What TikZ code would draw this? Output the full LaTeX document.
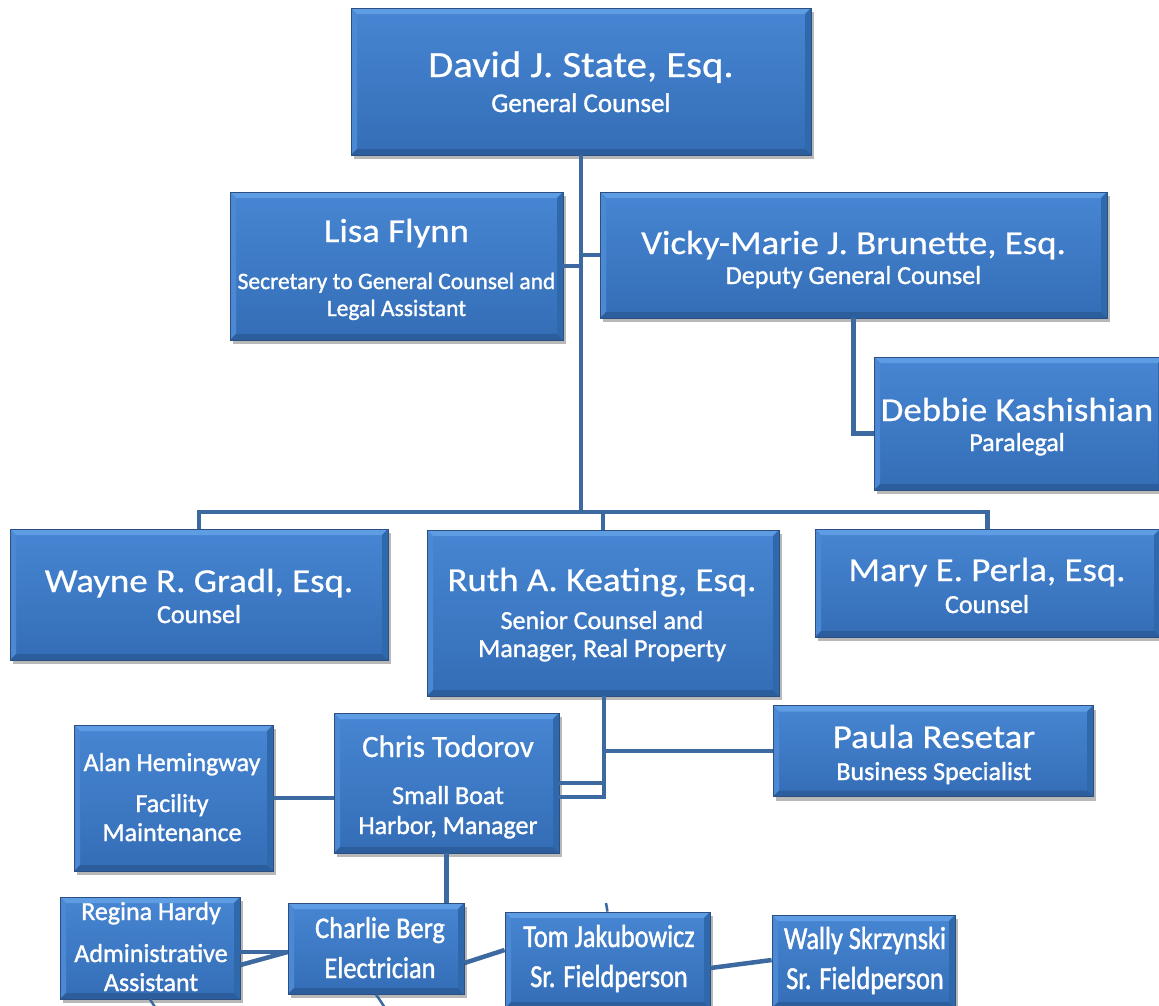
\documentclass[tikz,border=0pt]{standalone}
\usepackage{fontspec}
\setmainfont{Carlito}
\newfontfamily\widefont[FakeStretch=1.1,FakeBold=0.6]{Carlito}
\newfontfamily\subfont[FakeBold=1.3]{Carlito}
\newfontfamily\midfont[FakeBold=0.8]{Carlito}
\newfontfamily\condA[FakeStretch=0.82,FakeBold=1.3]{Carlito}
\newfontfamily\condB[FakeStretch=0.88,FakeBold=1.3]{Carlito}
\usetikzlibrary{shadows}
\definecolor{boxtop}{HTML}{4786D3}
\definecolor{boxbot}{HTML}{346DB6}
\definecolor{bvlight}{HTML}{5E9CE3}
\definecolor{bvleft}{HTML}{4B89D5}
\definecolor{bvright}{HTML}{3068AC}
\definecolor{bvbot}{HTML}{2C5D9C}
\definecolor{boxedge}{HTML}{2B4F80}
\definecolor{linecol}{HTML}{3D69A1}
\tikzset{
  orgbox/.style={draw=boxedge, line width=0.8pt, top color=boxtop, bottom color=boxbot,
    inner sep=0pt,
    drop shadow={shadow xshift=3pt, shadow yshift=-4pt, fill=black, opacity=0.28},
    path picture={
      \fill[bvlight] (path picture bounding box.north west) -- (path picture bounding box.north east)
        -- ([shift={(-6pt,-6pt)}]path picture bounding box.north east) -- ([shift={(6pt,-6pt)}]path picture bounding box.north west) -- cycle;
      \fill[bvleft] (path picture bounding box.north west) -- (path picture bounding box.south west)
        -- ([shift={(6pt,6pt)}]path picture bounding box.south west) -- ([shift={(6pt,-6pt)}]path picture bounding box.north west) -- cycle;
      \fill[bvright] (path picture bounding box.north east) -- (path picture bounding box.south east)
        -- ([shift={(-6pt,6pt)}]path picture bounding box.south east) -- ([shift={(-6pt,-6pt)}]path picture bounding box.north east) -- cycle;
      \fill[bvbot] (path picture bounding box.south west) -- (path picture bounding box.south east)
        -- ([shift={(-6pt,6pt)}]path picture bounding box.south east) -- ([shift={(6pt,6pt)}]path picture bounding box.south west) -- cycle;
    }},
  txt/.style={text=white, anchor=base, inner sep=0pt},
  conn/.style={draw=linecol, line width=4.5pt},
  stub/.style={draw=linecol, line width=2.5pt}
}
\newcommand\nmbig{\widefont\fontsize{37}{40}\selectfont}
\newcommand\nm{\widefont\fontsize{33.5}{36}\selectfont}
\newcommand\sub[1][26]{\subfont\fontsize{#1}{#1}\selectfont}
\newcommand\cnd{\condA\fontsize{32}{32}\selectfont}
\begin{document}
\begin{tikzpicture}[x=1pt,y=-1pt]
\useasboundingbox (0,0) rectangle (1159,1005);
\clip (0,0) rectangle (1159,1005);
\fill[white] (0,0) rectangle (1159,1005);

% boxes
\node[orgbox, minimum width=460pt, minimum height=147pt] (david) at (581,81.5) {};
\node[orgbox, minimum width=333pt, minimum height=148pt] (lisa) at (396.5,266) {};
\node[orgbox, minimum width=507pt, minimum height=126pt] (vicky) at (853.5,255) {};
\node[orgbox, minimum width=290pt, minimum height=133pt] (debbie) at (1019,423.5) {};
\node[orgbox, minimum width=378pt, minimum height=131pt] (wayne) at (199,594.5) {};
\node[orgbox, minimum width=352pt, minimum height=166pt] (ruth) at (603,613) {};
\node[orgbox, minimum width=345pt, minimum height=108pt] (mary) at (987.5,583) {};
\node[orgbox, minimum width=225pt, minimum height=140pt] (chris) at (446.5,783) {};
\node[orgbox, minimum width=199pt, minimum height=146pt] (alan) at (173.5,798) {};
\node[orgbox, minimum width=320pt, minimum height=91pt] (paula) at (933,751) {};
\node[orgbox, minimum width=180pt, minimum height=102pt] (regina) at (150,948) {};
\node[orgbox, minimum width=176pt, minimum height=91pt] (charlie) at (376,948.5) {};
\node[orgbox, minimum width=205pt, minimum height=96pt] (tom) at (607.5,960) {};
\node[orgbox, minimum width=183pt, minimum height=93pt] (wally) at (863.5,961.5) {};

% texts
\node[txt] (david1) at (581,77) {\nmbig David J. State, Esq.};
\node[txt] (david2) at (581,112) {\sub[27]General Counsel};
\node[txt] (lisa1) at (396.5,242) {\nm Lisa Flynn};
\node[txt] (lisa2) at (396.5,289) {\sub[23.5]Secretary to General Counsel and};
\node[txt] (lisa3) at (396.5,316) {\sub[23.5]Legal Assistant};
\node[txt] (vicky1) at (853.5,254) {\nm Vicky-Marie J. Brunette, Esq.};
\node[txt] (vicky2) at (853.5,284) {\sub Deputy General Counsel};
\node[txt] (debbie1) at (1017,421) {\nm Debbie Kashishian};
\node[txt] (debbie2) at (1017,451) {\sub Paralegal};
\node[txt] (wayne1) at (199,592) {\nm Wayne R. Gradl, Esq.};
\node[txt] (wayne2) at (199,623) {\sub Counsel};
\node[txt] (ruth1) at (602,591) {\nm Ruth A. Keating, Esq.};
\node[txt] (ruth2) at (602,629) {\sub Senior Counsel and};
\node[txt] (ruth3) at (602,657) {\sub Manager, Real Property};
\node[txt] (mary1) at (987,581) {\nm Mary E. Perla, Esq.};
\node[txt] (mary2) at (987,613) {\sub Counsel};
\node[txt] (paula1) at (934,748) {\nm Paula Resetar};
\node[txt] (paula2) at (934,780) {\sub Business Specialist};
\node[txt] (chris1) at (448,757) {\midfont\fontsize{31}{31}\selectfont Chris Todorov};
\node[txt] (chris2) at (448,804) {\sub Small Boat};
\node[txt] (chris3) at (448,834) {\sub Harbor, Manager};
\node[txt] (alan1) at (172,771) {\sub Alan Hemingway};
\node[txt] (alan2) at (172,812) {\sub Facility};
\node[txt] (alan3) at (172,841) {\sub Maintenance};
\node[txt] (regina1) at (151,920) {\sub Regina Hardy};
\node[txt] (regina2) at (151,962) {\sub Administrative};
\node[txt] (regina3) at (151,991) {\sub Assistant};
\node[txt] (charlie1) at (380,938) {\condB\fontsize{30}{30}\selectfont Charlie Berg};
\node[txt] (charlie2) at (380,978) {\condB\fontsize{30}{30}\selectfont Electrician};
\node[txt] (tom1) at (609,947) {\cnd Tom Jakubowicz};
\node[txt] (tom2) at (609,987) {\cnd Sr. Fieldperson};
\node[txt] (wally1) at (865,949) {\cnd Wally Skrzynski};
\node[txt] (wally2) at (865,989) {\cnd Sr. Fieldperson};

% connectors
\coordinate (bar) at (582,512);
\draw[conn] (david.south) -- (david.south |- bar);
\draw[conn] (wayne.north) |- (bar) -| (mary.north);
\draw[conn] (ruth.north) -- (ruth.north |- bar);
\draw[conn] (lisa.east) -- (lisa.east -| bar);
\draw[conn] (vicky.west) -- (vicky.west -| bar);
\draw[conn] (vicky.south) |- ([yshift=-10pt]debbie.west);
\coordinate (rj) at (604,797);
\draw[conn] (ruth.south -| rj) -- (rj) -- (rj -| chris.east);
\draw[conn] (chris.east) -- (chris.east -| rj);
\draw[conn] (paula.west) -- (paula.west -| rj);
\draw[conn] (alan.east) -- (alan.east -| chris.west);
\draw[conn] (chris.south) -- (chris.south |- charlie.north);
\coordinate (cbw) at ([yshift=-3.5pt]charlie.west);
\draw[conn] (regina.east |- cbw) -- (cbw);
\draw[conn] ([yshift=-17pt]regina.east) -- (cbw);
\draw[conn] ([yshift=-14.5pt]charlie.east) -- ([yshift=10pt]tom.west);
\draw[conn] ([yshift=-8pt]tom.east) -- ([yshift=1.5pt]wally.west);
% partial connectors leaving the picture
\coordinate (offreg) at (170,1030);
\coordinate (offcha) at (400,1030);
\coordinate (offtom) at (510,1025);
\coordinate (uptom) at (606,903);
\draw[stub] (regina.south) -- (offreg);
\draw[stub] (charlie.south) -- (offcha);
\draw[stub] ([xshift=28pt]tom.south west) -- (offtom);
\draw[stub] (tom.north) -- (uptom);
\end{tikzpicture}
\end{document}
